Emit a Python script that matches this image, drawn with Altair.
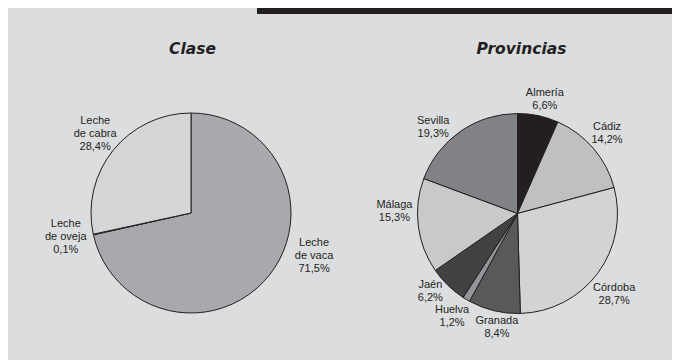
import altair as alt
import pandas as pd

# ---- data ----
clase_names = ["Leche\nde vaca", "Leche\nde oveja", "Leche\nde cabra"]
clase_values = [71.5, 0.1, 28.4]

prov_names = ["Almería", "Cádiz", "Córdoba", "Granada", "Huelva", "Jaén", "Málaga", "Sevilla"]
prov_values = [6.6, 14.2, 28.7, 8.4, 1.2, 6.2, 15.3, 19.3]

# ---- style ----
clase_colors = ["#a7a9ac", "#8a8c8f", "#d4d5d7"]
prov_colors = ["#231f20", "#bfc0c2", "#d2d3d5", "#58595b", "#939598", "#414244", "#c8c9cb", "#818285"]
BG = "#dcdddf"
INK = "#231f20"
FONT = "Liberation Sans"
TITLE_FONT = "DejaVu Sans"
R = 100
LABEL_R = 118
LINE_H = 13

# label offsets (layout tweaks, px) for the centre of each label block
clase_offsets = {"Leche\nde vaca": (31, -31), "Leche\nde oveja": (-10, -1), "Leche\nde cabra": (-4, -5)}
prov_offsets = {"Almería": (3, 1), "Cádiz": (0, -3), "Córdoba": (2, 11), "Granada": (7, -1),
                "Huelva": (-5, 2), "Jaén": (-5, -7), "Málaga": (-6, -17), "Sevilla": (-17, 11)}


def make_df(names, values):
    return pd.DataFrame({
        "name": names,
        "value": values,
        "idx": list(range(len(names))),
        "text": [f"{n}\n{v:.1f}".replace(".", ",") + "%" for n, v in zip(names, values)],
    })


def pie(names, values, colors, offsets, cx, cy):
    df = make_df(names, values)
    base = alt.Chart(df)
    arc = base.mark_arc(radius=R, stroke=INK, strokeWidth=1).encode(
        theta=alt.Theta("value:Q", stack=True),
        color=alt.Color("name:N", scale=alt.Scale(domain=names, range=colors), legend=None),
        order=alt.Order("idx:Q"),
        x=alt.value(cx),
        y=alt.value(cy),
    )
    layers = [arc]
    for n in names:
        dx, dy = offsets[n]
        n_lines = n.count("\n") + 2
        dy = dy - (n_lines - 1) * LINE_H / 2
        t = (
            base.transform_window(cum="sum(value)", sort=[alt.SortField("idx")], frame=[None, 0])
            .transform_joinaggregate(total="sum(value)")
            .transform_calculate(ang="2*PI*(datum.cum - datum.value/2)/datum.total")
            .transform_filter(alt.datum.name == n)
            .mark_text(radius=LABEL_R, dx=dx, dy=dy, lineBreak="\n", font=FONT, fontSize=11,
                       lineHeight=LINE_H, color=INK, align="center", baseline="middle")
            .encode(
                theta=alt.Theta("ang:Q", scale=None, stack=False),
                text="text:N",
                x=alt.value(cx),
                y=alt.value(cy),
            )
        )
        layers.append(t)
    return alt.layer(*layers)


one = pd.DataFrame({"k": [0]})

bar = alt.Chart(one).mark_rect(color=INK).encode(
    x=alt.value(249), x2=alt.value(664), y=alt.value(0), y2=alt.value(6)
)

titles = alt.layer(
    alt.Chart(one).mark_text(text="Clase", font=TITLE_FONT, fontSize=15.5, fontWeight="bold",
                             fontStyle="italic", color=INK, align="center", baseline="middle")
    .encode(x=alt.value(184.5), y=alt.value(41)),
    alt.Chart(one).mark_text(text="Provincias", font=TITLE_FONT, fontSize=15.5, fontWeight="bold",
                             fontStyle="italic", color=INK, align="center", baseline="middle")
    .encode(x=alt.value(513.5), y=alt.value(41)),
)

left = pie(clase_names, clase_values, clase_colors, clase_offsets, 183, 205)
right = pie(prov_names, prov_values, prov_colors, prov_offsets, 509.5, 205.5)

chart = (
    alt.layer(bar, titles, left, right)
    .resolve_scale(theta="independent", color="independent")
    .properties(width=664, height=352, padding=0, autosize=alt.AutoSizeParams(type="none"),
                background=BG)
    .configure_view(stroke=None)
)

chart.save("out.html", embed_options={"renderer": "svg", "actions": False})
